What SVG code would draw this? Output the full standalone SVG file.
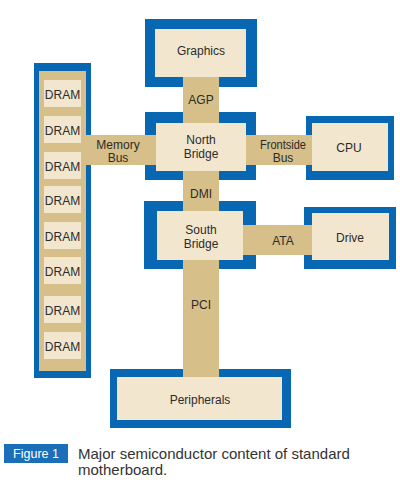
<svg xmlns="http://www.w3.org/2000/svg" width="400" height="485" viewBox="0 0 400 485">
<style>
.blue{fill:#0867b3}
.tan{fill:#d6bf88}
.cream{fill:#f2e6cf}
text{font-family:"Liberation Sans",Arial,sans-serif;font-size:12px;fill:#2b2b2b;text-anchor:middle}
.cap{font-size:15px;text-anchor:start;fill:#333}
.fig{font-size:12.5px;fill:#fff;text-anchor:middle}
</style>
<rect width="400" height="485" fill="#fff"/>
<g id="connectors">
<rect class="tan" x="183" y="75" width="36" height="40"/>
<rect class="tan" x="183" y="178" width="36" height="26"/>
<rect class="tan" x="183" y="258" width="36" height="120"/>
<rect class="tan" x="88" y="135" width="60" height="30"/>
<rect class="tan" x="254" y="135" width="58" height="30"/>
<rect class="tan" x="254" y="225" width="58" height="30"/>
<text x="201" y="104">AGP</text>
<text x="201" y="198">DMI</text>
<text x="201" y="309">PCI</text>
<text x="118" y="149">Memory</text>
<text x="118" y="162">Bus</text>
<text x="283" y="149" textLength="46" lengthAdjust="spacingAndGlyphs">Frontside</text>
<text x="283" y="162">Bus</text>
<text x="283" y="245">ATA</text>
</g>
<g id="graphics">
<rect class="blue" x="145" y="19" width="112" height="68"/>
<rect class="cream" x="155" y="29" width="91" height="48"/>
<rect class="tan" x="183" y="77" width="36" height="10"/>
<text x="201" y="55">Graphics</text>
</g>
<g id="northbridge">
<rect class="blue" x="145" y="112" width="111" height="68"/>
<rect class="tan" x="183" y="112" width="36" height="11"/>
<rect class="tan" x="183" y="171" width="36" height="9"/>
<rect class="tan" x="145" y="135" width="11" height="30"/>
<rect class="tan" x="246" y="135" width="10" height="30"/>
<rect class="cream" x="156" y="123" width="90" height="48"/>
<text x="201" y="144">North</text>
<text x="201" y="158">Bridge</text>
</g>
<g id="cpu">
<rect class="blue" x="306" y="116" width="88" height="64"/>
<rect class="tan" x="306" y="135" width="6" height="30"/>
<rect class="cream" x="312" y="123" width="76" height="48"/>
<text x="349" y="152">CPU</text>
</g>
<g id="southbridge">
<rect class="blue" x="144" y="201" width="112" height="68"/>
<rect class="tan" x="183" y="201" width="36" height="10"/>
<rect class="tan" x="183" y="260" width="36" height="9"/>
<rect class="tan" x="243" y="225" width="13" height="30"/>
<rect class="cream" x="157" y="211" width="86" height="49"/>
<text x="201" y="234">South</text>
<text x="201" y="248">Bridge</text>
</g>
<g id="drive">
<rect class="blue" x="304" y="207" width="92" height="62"/>
<rect class="tan" x="304" y="225" width="8" height="30"/>
<rect class="cream" x="312" y="213" width="77" height="47"/>
<text x="350" y="242">Drive</text>
</g>
<g id="peripherals">
<rect class="blue" x="110" y="369" width="181" height="59"/>
<rect class="tan" x="183" y="369" width="36" height="8"/>
<rect class="cream" x="117" y="377" width="165" height="43"/>
<text x="200" y="404">Peripherals</text>
</g>
<g id="memory">
<rect class="blue" x="34" y="63" width="57" height="315"/>
<rect class="tan" x="39" y="71" width="47" height="300"/>
<rect class="tan" x="86" y="135" width="5" height="30"/>
<g id="dram1"><rect class="cream" x="44" y="80" width="37" height="27"/><text x="62.5" y="99">DRAM</text></g>
<g id="dram2"><rect class="cream" x="44" y="116" width="37" height="27"/><text x="62.5" y="135">DRAM</text></g>
<g id="dram3"><rect class="cream" x="44" y="152" width="37" height="27"/><text x="62.5" y="171">DRAM</text></g>
<g id="dram4"><rect class="cream" x="44" y="186" width="37" height="27"/><text x="62.5" y="205">DRAM</text></g>
<g id="dram5"><rect class="cream" x="44" y="222" width="37" height="27"/><text x="62.5" y="241">DRAM</text></g>
<g id="dram6"><rect class="cream" x="44" y="257" width="37" height="27"/><text x="62.5" y="276">DRAM</text></g>
<g id="dram7"><rect class="cream" x="44" y="296" width="37" height="27"/><text x="62.5" y="315">DRAM</text></g>
<g id="dram8"><rect class="cream" x="44" y="332" width="37" height="27"/><text x="62.5" y="351">DRAM</text></g>
</g>
<g id="caption">
<rect x="4" y="444" width="64" height="19" fill="#1a6fb8"/>
<text class="fig" x="36" y="458">Figure 1</text>
<text class="cap" x="78" y="459">Major semiconductor content of standard</text>
<text class="cap" x="78" y="475">motherboard.</text>
</g>
</svg>
